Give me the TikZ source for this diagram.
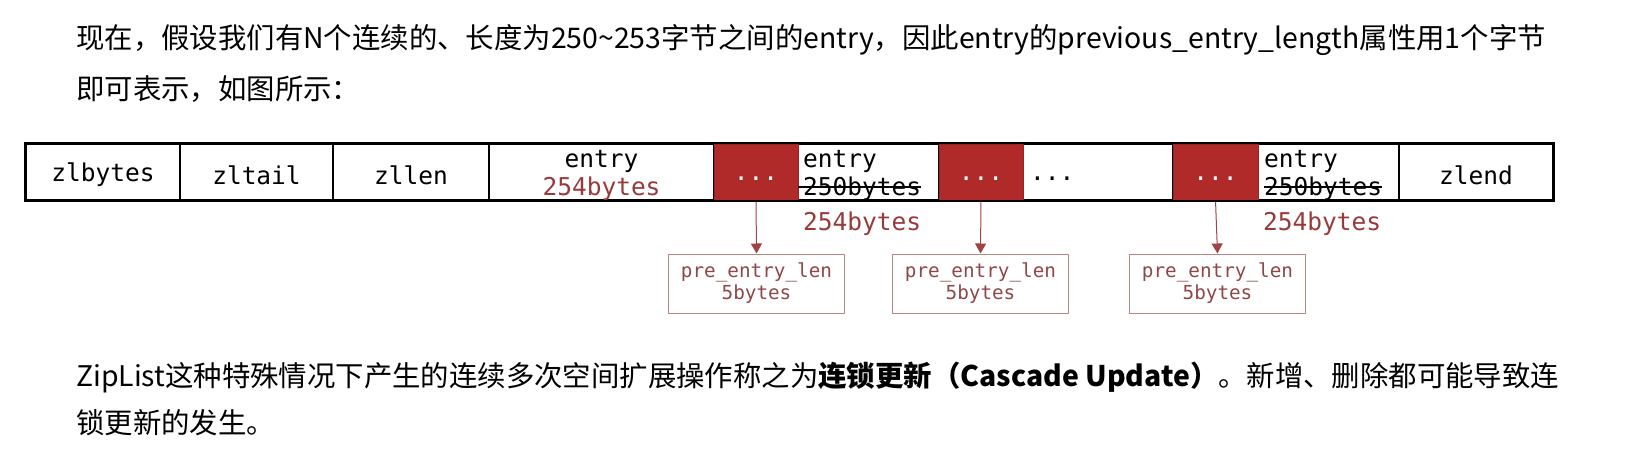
\documentclass[tikz,border=0pt]{standalone}
\usepackage{fontspec}
\setmainfont{Noto Sans CJK SC}
\newfontfamily\monof{DejaVu Sans Mono}
\usetikzlibrary{arrows.meta}
\definecolor{redfill}{HTML}{B02A2A}
\definecolor{redtxt}{HTML}{983A3A}
\definecolor{prebd}{HTML}{B88585}
\definecolor{pretxt}{HTML}{8E4848}
\definecolor{arrowc}{HTML}{A04545}
\tikzset{
  cell/.style={draw=black, line width=2.2pt, minimum height=56pt, inner sep=0pt},
  redcell/.style={draw=redfill!85!black, line width=0.8pt, fill=redfill, minimum height=56pt, inner sep=0pt},
  celltxt/.style={inner sep=0pt, font=\monof\fontsize{24.5}{26}\selectfont},
  prebox/.style={draw=prebd, line width=1pt, minimum width=176pt, minimum height=59pt, inner sep=0pt, align=center, text=pretxt, font=\monof\fontsize{19.3}{22}\selectfont},
  link/.style={draw=arrowc, line width=1pt, -{Triangle[length=10pt,width=11pt]}},
  para/.style={anchor=west, inner sep=0pt, font=\fontsize{28.4}{30}\selectfont}
}
\begin{document}
\begin{tikzpicture}[x=1pt,y=-1pt]
\useasboundingbox[fill=white] (0,0) rectangle (1630,450);
% paragraph text
\node[para] (t1) at (76,40) {现在，假设我们有N个连续的、长度为250\textasciitilde253字节之间的entry，因此entry的previous\_entry\_length属性用1个字节};
\node[para] (t2) at (76,89) {即可表示，如图所示：};
\node[para] (t3) at (76,377) {ZipList这种特殊情况下产生的连续多次空间扩展操作称之为\textbf{连锁更新（Cascade Update）}。新增、删除都可能导致连};
\node[para] (t4) at (76,423) {锁更新的发生。};
% main bar cells
\node[cell, minimum width=154pt] (zlbytes) at (103,172) {};
\node[cell, minimum width=153pt] (zltail) at (256.5,172) {};
\node[cell, minimum width=156pt] (zllen) at (411,172) {};
\node[cell, minimum width=225pt] (e1) at (601.5,172) {};
\node[cell, minimum width=141pt] (e2) at (868.5,172) {};
\node[cell, minimum width=150pt] (dots) at (1098,172) {};
\node[cell, minimum width=141pt] (e3) at (1328.5,172) {};
\node[cell, minimum width=154pt] (zlend) at (1476,172) {};
\node[redcell, minimum width=84pt] (r1) at (756,172) {};
\node[redcell, minimum width=84pt] (r2) at (981,172) {};
\node[redcell, minimum width=85pt] (r3) at (1215.5,172) {};
% cell labels
\node[celltxt] (l1) at (103,175) {zlbytes};
\node[celltxt] (l2) at (256.5,175) {zltail};
\node[celltxt] (l3) at (411,175) {zllen};
\node[celltxt] (l4) at (1476,175) {zlend};
\node[celltxt, text=white] (d1) at (756,179) {...};
\node[celltxt, text=white] (d2) at (981,179) {...};
\node[celltxt, text=white] (d3) at (1215.5,179) {...};
\node[celltxt, anchor=west] (dd) at (1030,179) {...};
% texts inside entries
\node[celltxt] (e1a) at (601.5,161) {entry};
\node[celltxt, text=redtxt] (e1b) at (601.5,189) {254bytes};
\node[celltxt, anchor=west] (e2a) at (803,161) {entry};
\node[celltxt, anchor=west] (e2b) at (803,189) {250bytes};
\node[celltxt, anchor=west] (e3a) at (1264,161) {entry};
\node[celltxt, anchor=west] (e3b) at (1264,189) {250bytes};
\draw[line width=1.2pt] ([xshift=-5pt,yshift=2pt]e2b.west) -- ([yshift=2pt]e2b.east);
\draw[line width=1.2pt] ([yshift=2pt]e3b.west) -- ([yshift=2pt]e3b.east);
% new sizes
\node[celltxt, anchor=west, text=redtxt] (n2) at (803,224) {254bytes};
\node[celltxt, anchor=west, text=redtxt] (n3) at (1263,224) {254bytes};
% pre entry boxes
\node[prebox] (p1) at (756.5,283.5) {pre\_entry\_len\\5bytes};
\node[prebox] (p2) at (980.5,283.5) {pre\_entry\_len\\5bytes};
\node[prebox] (p3) at (1217.5,283.5) {pre\_entry\_len\\5bytes};
\draw[link] (r1.south) -- (p1.north);
\draw[link] (r2.south) -- (p2.north);
\draw[link] (r3.south) -- (p3.north);
% outer frame on top
\draw[line width=2.2pt] (zlbytes.north west) rectangle (zlend.south east);
\end{tikzpicture}
\end{document}
